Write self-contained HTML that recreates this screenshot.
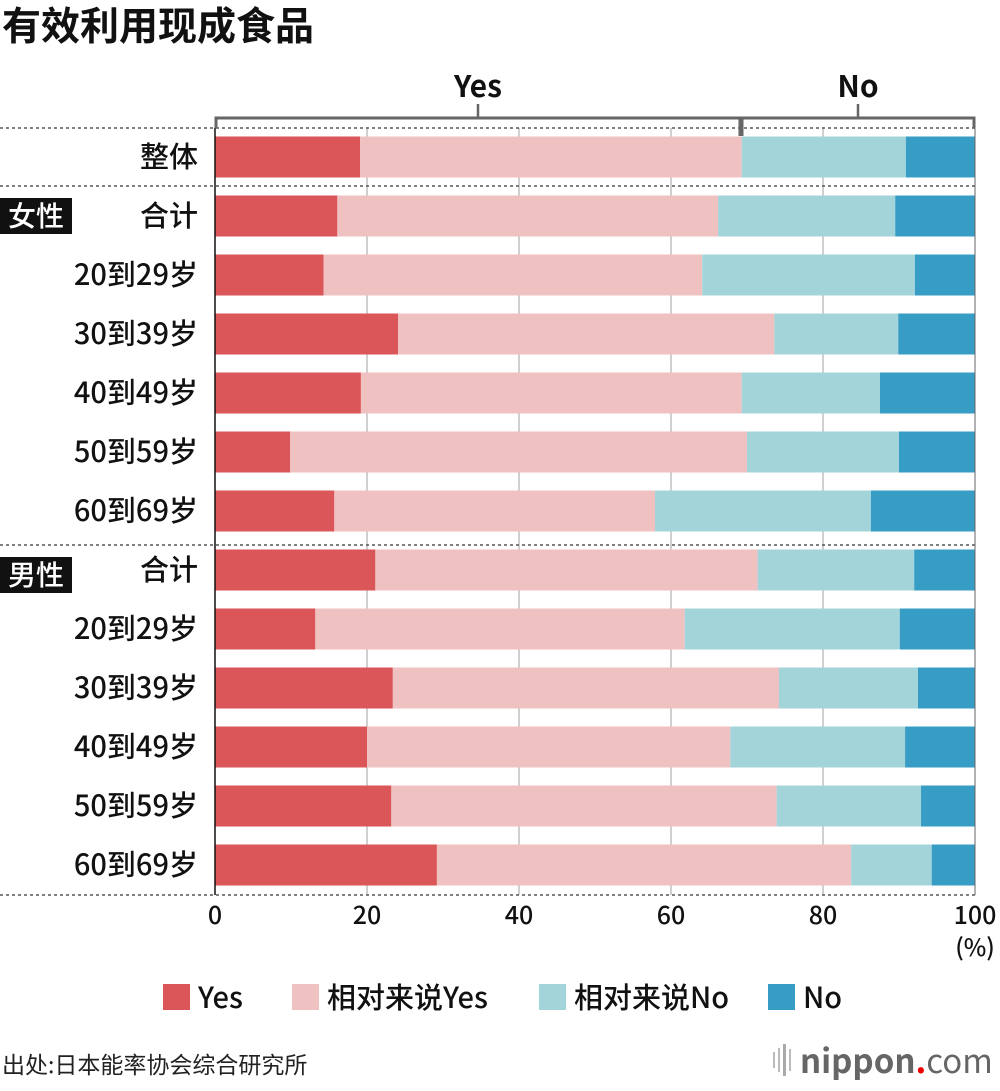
<!DOCTYPE html>
<html><head><meta charset="utf-8"><style>
body{margin:0;background:#fff;width:1000px;height:1086px;overflow:hidden;font-family:"Noto Sans CJK SC","Liberation Sans",sans-serif;}
svg text{font-family:"Noto Sans CJK SC","Liberation Sans",sans-serif;}
</style></head><body>
<svg id="chart" width="1000" height="1086" xmlns="http://www.w3.org/2000/svg">
<text x="2" y="40" font-size="39" font-weight="bold" fill="#111">有效利用现成食品</text>
<g id="grid"></g><g id="bars"></g><g id="labels"></g>
<g stroke="#666" fill="none">
<path d="M216 128 V118 H974 V128" stroke-width="3"/>
<line x1="741" y1="118" x2="741" y2="136" stroke-width="5"/>
<line x1="478" y1="104" x2="478" y2="118" stroke-width="2.5"/>
<line x1="858" y1="104" x2="858" y2="118" stroke-width="2.5"/>
</g>
<text x="478" y="97" font-size="30" font-weight="bold" text-anchor="middle" fill="#111">Yes</text>
<text x="858" y="97" font-size="30" font-weight="bold" text-anchor="middle" fill="#111">No</text>
<g id="legend"></g>
<text x="2" y="1073" font-size="23" fill="#222">出处:日本能率协会综合研究所</text>
<g>
<rect x="773" y="1052" width="2" height="16" fill="#bbb"/><rect x="778" y="1048" width="2" height="24" fill="#bbb"/><rect x="783" y="1044" width="3" height="32" fill="#aaa"/><rect x="789" y="1049" width="2" height="22" fill="#bbb"/>
<text x="800" y="1073" font-size="33" fill="#666" font-weight="bold">nippon<tspan fill="#e00">.</tspan><tspan font-weight="normal">com</tspan></text>
</g>
</svg>
<script>
const categories=["整体","合计","20到29岁","30到39岁","40到49岁","50到59岁","60到69岁","合计","20到29岁","30到39岁","40到49岁","50到59岁","60到69岁"];
const seriesNames=["Yes","相对来说Yes","相对来说No","No"];
const yesVals=[19.1,16.1,14.3,24.1,19.2,9.9,15.7,21.1,13.2,23.4,20.0,23.2,29.2];
const ratherYesVals=[50.2,50.1,49.8,49.5,50.1,60.1,42.2,50.3,48.6,50.8,47.8,50.7,54.5];
const ratherNoVals=[21.6,23.3,28.0,16.3,18.2,20.0,28.4,20.6,28.3,18.3,23.0,19.0,10.6];
const noVals=[9.1,10.5,7.9,10.1,12.5,10.0,13.7,8.0,9.9,7.5,9.2,7.1,5.7];
const ticks=[0,20,40,60,80,100];
const colors=["#db5658","#f0c1c1","#a3d4da","#379dc4"];
const NS="http://www.w3.org/2000/svg";
const x=v=>215+v*7.6;
const y=i=>157+i*59;
function mk(t,a,p){const e=document.createElementNS(NS,t);for(const k in a)e.setAttribute(k,a[k]);p.appendChild(e);return e;}
const grid=document.getElementById('grid'),bars=document.getElementById('bars'),labels=document.getElementById('labels'),legend=document.getElementById('legend');
ticks.forEach(t=>{
 if(t>0&&t<100){const l=mk('line',{x1:x(t),x2:x(t),y1:128,y2:895,stroke:'#d0d0d0','stroke-width':2},grid);
 
 }
 const tx=mk('text',{x:x(t),y:924,'font-size':25,'font-weight':500,'text-anchor':'middle',fill:'#111'},labels);tx.textContent=t;
 
 
});
const pc=mk('text',{x:975,y:956,'font-size':24,'font-weight':500,'text-anchor':'middle',fill:'#111'},labels);pc.textContent='(%)';


const series=[yesVals,ratherYesVals,ratherNoVals,noVals];
categories.forEach((c,i)=>{
 let acc=0;
 series.forEach((s,k)=>{
  const r=mk('rect',{x:x(acc),y:y(i)-20.5,width:x(acc+s[i])-x(acc),height:41,fill:colors[k]},bars);
  
  
  acc+=s[i];
 });
 const t=mk('text',{x:198,y:y(i)+10,'font-size':29,'font-weight':500,'text-anchor':'end',fill:'#111'},labels);t.textContent=c;
 
 
});
[128,186,545,895].forEach(yy=>{const l=mk('line',{x1:0,x2:975,y1:yy,y2:yy,stroke:'#555','stroke-width':1.5,'stroke-dasharray':'3 3'},labels);
 
 });
const ax=mk('line',{x1:215,x2:215,y1:128,y2:895,stroke:'#111','stroke-width':1.5},labels);


const ax2=mk('line',{x1:975,x2:975,y1:128,y2:895,stroke:'#666','stroke-width':1},labels);


[["女性",216],["男性",575]].forEach(([g,yy])=>{
 const r=mk('rect',{x:0,y:yy-18,width:72,height:36,fill:'#111'},labels);
 
 
 const t=mk('text',{x:36,y:yy+10,'font-size':28,'font-weight':500,'text-anchor':'middle',fill:'#fff'},labels);t.textContent=g;
 
 
});
const lx=[163,292,539,768];
seriesNames.forEach((n,k)=>{
 const r=mk('rect',{x:lx[k],y:984,width:27,height:26,fill:colors[k]},legend);
 
 
 const t=mk('text',{x:lx[k]+35,y:1008,'font-size':29,'font-weight':500,fill:'#111'},legend);t.textContent=n;
 
 
});
</script>
</body></html>
